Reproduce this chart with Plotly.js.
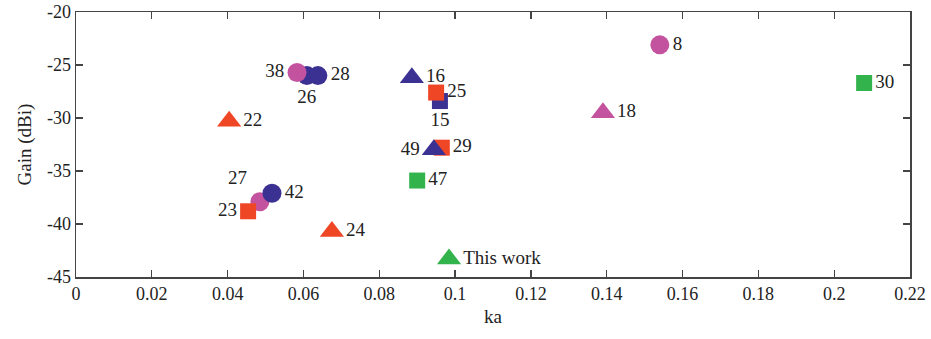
<!DOCTYPE html>
<html>
<head>
<meta charset="utf-8">
<script src="https://cdn.plot.ly/plotly-3.0.1.min.js"></script>
<style>html,body{margin:0;padding:0;background:#fff;}#chart{width:931px;height:339px;}</style>
</head>
<body>
<div id="chart"></div>
<script>
// Data (draw order: later points sit on top)
const labels = ['27', '23', '42', '26', '28', '38', '8', '18', '22', '24', '15', '25', '29', '49', '16', '47', '30', 'This work'];
const ka     = [0.0485, 0.0454, 0.0517, 0.0609, 0.0638, 0.0583, 0.154, 0.139, 0.0404, 0.0675, 0.0960, 0.0950, 0.0965, 0.0944, 0.0886, 0.0900, 0.2079, 0.0984];
const gain   = [-37.9, -38.8, -37.1, -26.0, -26.0, -25.7, -23.1, -29.5, -30.3, -40.7, -28.4, -27.6, -32.8, -33.0, -26.2, -35.9, -26.7, -43.3];
const series = ['pink-circle', 'orange-square', 'blue-circle', 'blue-circle', 'blue-circle', 'pink-circle', 'pink-circle', 'pink-triangle', 'orange-triangle', 'orange-triangle', 'blue-square', 'orange-square', 'orange-square', 'blue-triangle', 'blue-triangle', 'green-square', 'green-square', 'green-triangle'];
const xTicks = [0, 0.02, 0.04, 0.06, 0.08, 0.1, 0.12, 0.14, 0.16, 0.18, 0.2, 0.22];
const yTicks = [-45, -40, -35, -30, -25, -20];

// Styles
const colors = {pink: '#c4539f', blue: '#3b3193', orange: '#ef4626', green: '#33b34b'};
const symbols = {circle: 'circle', square: 'square', triangle: 'triangle-up'};
const sizes = {circle: 19, square: 16, triangle: 21};
const labelPos = {
  '27': 'top left', '23': 'middle left', '42': 'middle right', '26': 'bottom center',
  '28': 'middle right', '38': 'middle left', '8': 'middle right', '18': 'middle right',
  '22': 'middle right', '24': 'middle right', '15': 'bottom center', '25': 'middle right',
  '29': 'middle right', '49': 'middle left', '16': 'middle right', '47': 'middle right',
  '30': 'middle right', 'This work': 'middle right'
};

const serif = 'Liberation Serif, Times New Roman, serif';
const traces = labels.map((lab, i) => {
  const [c, s] = series[i].split('-');
  return {
    type: 'scatter', mode: 'markers+text',
    x: [ka[i]], y: [gain[i]], text: [lab],
    textposition: labelPos[lab],
    textfont: {family: serif, size: 19, color: '#222'},
    marker: {color: colors[c], symbol: symbols[s], size: sizes[s], line: {width: 0}},
    cliponaxis: false, hoverinfo: 'x+y+text', showlegend: false
  };
});

const axisCommon = {
  showgrid: false, zeroline: false, showline: true, mirror: 'ticks',
  linecolor: '#444', linewidth: 1.5, ticks: 'inside', ticklen: 7, tickwidth: 1.3, tickcolor: '#444',
  tickfont: {family: serif, size: 18, color: '#222'}
};

const layout = {
  width: 931, height: 339,
  margin: {l: 76, r: 21, t: 12, b: 62},
  paper_bgcolor: '#fff', plot_bgcolor: '#fff',
  xaxis: Object.assign({}, axisCommon, {
    range: [0, 0.22], tickvals: xTicks, ticktext: xTicks.map(String),
    title: {text: 'ka', font: {family: serif, size: 19, color: '#222'}, standoff: 6}
  }),
  yaxis: Object.assign({}, axisCommon, {
    range: [-45, -20], tickvals: yTicks, ticktext: yTicks.map(String),
    title: {text: 'Gain (dBi)', font: {family: serif, size: 19, color: '#222'}, standoff: 10}
  })
};

Plotly.newPlot('chart', traces, layout, {displayModeBar: false, staticPlot: true});
</script>
</body>
</html>
